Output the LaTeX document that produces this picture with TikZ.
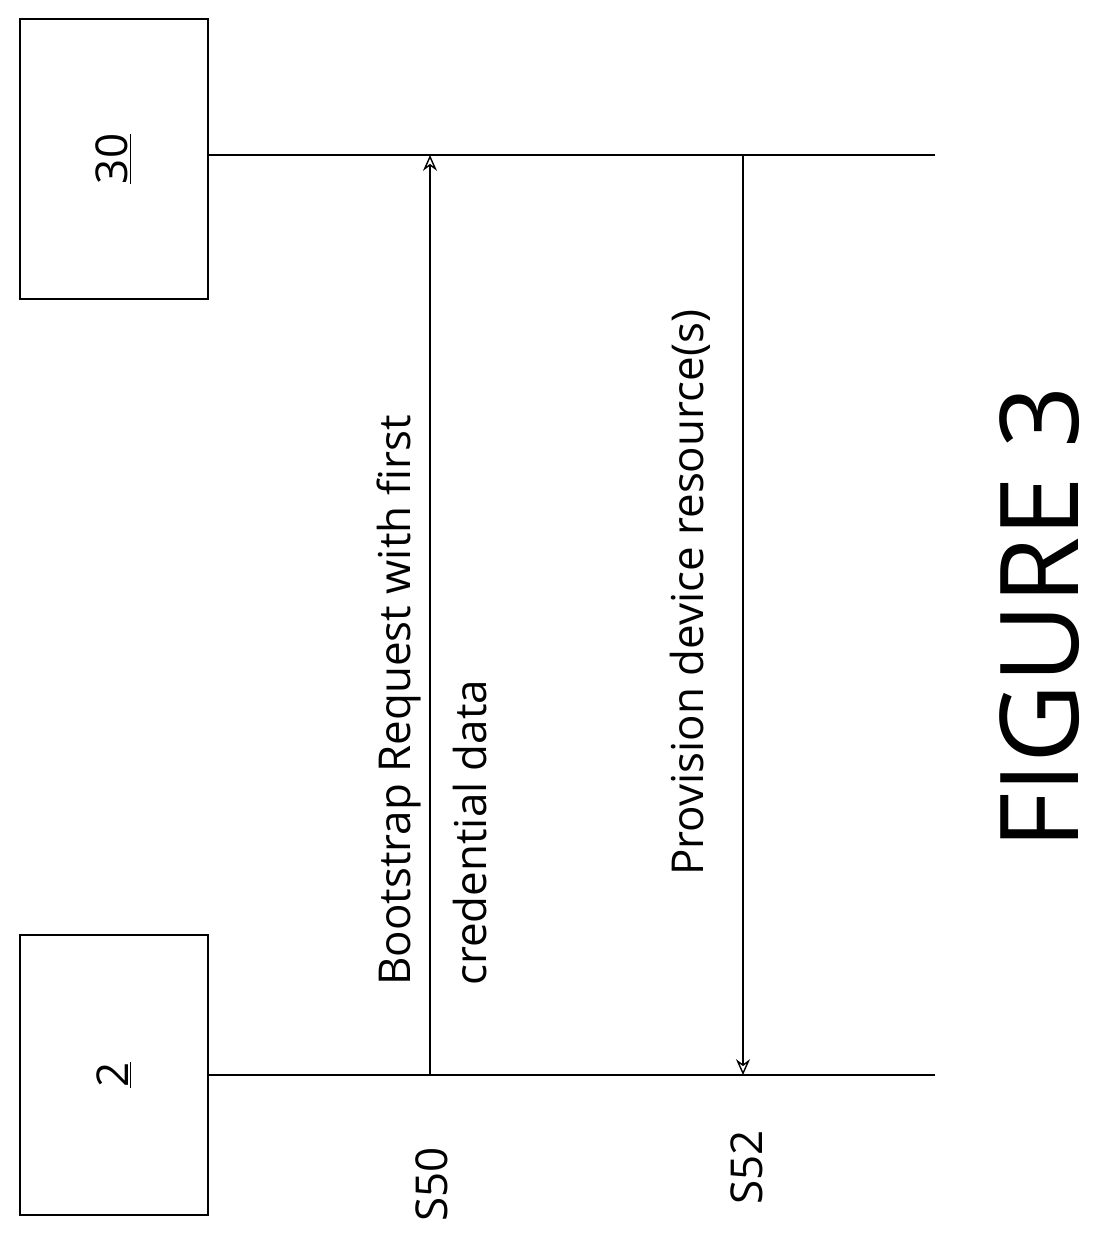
\documentclass[tikz,border=0pt]{standalone}
\usepackage{fontspec}
\setmainfont{Open Sans}
\usetikzlibrary{arrows.meta}
\begin{document}
\begin{tikzpicture}[x=0.02cm,y=-0.02cm,
  entity/.style={draw,thick,minimum width=3.76cm,minimum height=5.6cm,inner sep=0pt},
  lifeline/.style={draw,very thick},
  msg/.style={draw,thick,-{Stealth[open,length=9pt,width=8pt]}},
  lbl/.style={rotate=90,font=\fontsize{25}{43}\selectfont,align=left,inner sep=0pt}]
	% frame
	\useasboundingbox (0,0) rectangle (1115,1241);
	
	% entities
	\node[entity] (dev) at (114,1075) {};
	\node[rotate=90,font=\fontsize{25}{30}\selectfont] at (dev) {\underline{2}};
	\node[entity] (srv) at (114,159) {};
	\node[rotate=90,font=\fontsize{25}{30}\selectfont] at (srv) {\underline{30}};
	
	% lifelines
	\coordinate (devA) at (208,1075);
	\coordinate (devB) at (935,1075);
	\coordinate (srvA) at (208,155);
	\coordinate (srvB) at (935,155);
	\draw[lifeline] (devA) -- (devB);
	\draw[lifeline] (srvA) -- (srvB);
	
	% messages
	\coordinate (m1a) at (430,1075);
	\coordinate (m1b) at (430,155);
	\coordinate (m2a) at (743,155);
	\coordinate (m2b) at (743,1075);
	\draw[msg] (m1a) -- (m1b);
	\draw[msg] (m2a) -- (m2b);
	\node[lbl,anchor=west] (t1) at (432,986) {Bootstrap Request with first\\credential data};
	\node[lbl,anchor=west] (t2) at (690,876) {Provision device resource(s)};
	\node[lbl,anchor=west] (s50) at (432,1222) {S50};
	\node[lbl,anchor=west] (s52) at (747,1205) {S52};
	
	% caption
	\node[rotate=90,font=\fontsize{62}{70}\selectfont] (fig) at (1040,618) {FIGURE 3};
\end{tikzpicture}
\end{document}
